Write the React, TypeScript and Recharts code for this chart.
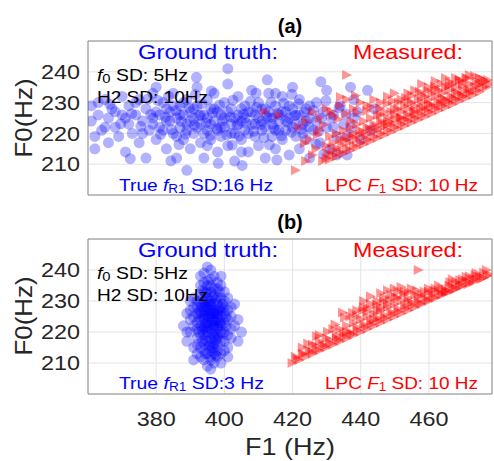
import React from 'react'
import {
  ScatterChart,
  Scatter,
  XAxis,
  YAxis,
  CartesianGrid,
  ReferenceArea,
} from 'recharts'

// F1 (Hz), F0 (Hz) pairs
const truthA: [number, number][] = [
  [361, 224], [362, 219], [361, 229], [363, 226], [364, 221], [365, 231], [366, 217], [366, 225], [367, 228], [368, 222],
  [369, 219], [370, 226], [370, 232], [371, 214], [372, 223], [372, 229], [373, 220], [374, 226], [375, 217], [375, 231],
  [376, 224], [377, 228], [377, 212], [378, 221], [379, 225], [379, 233], [380, 218], [381, 226], [381, 222], [382, 230],
  [383, 215], [383, 224], [384, 227], [385, 220], [385, 233], [386, 225], [386, 212], [387, 222], [387, 229], [388, 218],
  [388, 226], [389, 231], [389, 223], [390, 215], [390, 227], [391, 220], [391, 225], [392, 235], [392, 229], [393, 217],
  [393, 223], [394, 226], [394, 212], [395, 221], [395, 231], [396, 228], [396, 218], [397, 224], [397, 233], [398, 214],
  [398, 227], [399, 222], [399, 219], [400, 230], [400, 225], [401, 216], [401, 236], [402, 223], [402, 228], [403, 220],
  [403, 211], [404, 226], [404, 232], [405, 218], [405, 224], [406, 229], [406, 221], [407, 214], [407, 227], [408, 223],
  [408, 234], [409, 219], [409, 226], [410, 230], [410, 216], [411, 224], [411, 221], [412, 228], [412, 212], [413, 225],
  [413, 233], [414, 219], [414, 223], [415, 229], [415, 215], [416, 226], [416, 221], [417, 232], [417, 218], [418, 224],
  [418, 227], [419, 213], [419, 229], [420, 222], [420, 235], [421, 219], [421, 226], [422, 231], [422, 215], [423, 223],
  [424, 228], [424, 218], [425, 225], [425, 212], [426, 221], [427, 230], [427, 224], [428, 217], [429, 227], [430, 222],
  [430, 234], [431, 215], [432, 226], [433, 219], [434, 229], [435, 223], [436, 213], [437, 235], [438, 225], [440, 218],
  [442, 234], [444, 228], [401, 241], [389, 208],
  [379, 223], [380, 227], [382, 221], [383, 228], [384, 224], [386, 219], [387, 226], [388, 230], [389, 221], [390, 224],
  [391, 228], [392, 222], [393, 226], [394, 220], [395, 225], [396, 223], [397, 228], [398, 221], [399, 226], [400, 222],
  [401, 227], [402, 220], [403, 225], [404, 223], [405, 228], [406, 225], [407, 220], [408, 227], [409, 223], [410, 225],
  [411, 228], [412, 222], [413, 227], [414, 225], [415, 221], [416, 224], [417, 227], [418, 221], [419, 225], [420, 228],
  [421, 223], [422, 226], [423, 220], [424, 224], [376, 220], [374, 230], [371, 225], [368, 227], [365, 222], [363, 230],
  [362, 215], [380, 235], [385, 229], [395, 216], [405, 214], [415, 233], [425, 229], [432, 222], [436, 219], [439, 227],
  [443, 221], [438, 231], [433, 213],
  [378.4, 226.1], [381.3, 219.7], [382.7, 225.3], [384.5, 221.2], [385.8, 227.4], [387.3, 223.9], [388.6, 219.8], [389.7, 228.3],
  [391.2, 222.7], [392.6, 225.8], [393.4, 229.6], [394.7, 223.4], [395.9, 219.3], [396.5, 226.7], [397.8, 221.6], [398.6, 229.2],
  [399.4, 224.1], [400.7, 219.5], [401.8, 225.3], [402.5, 230.8], [403.7, 222.6], [404.3, 219.1], [405.6, 226.2], [406.4, 223.3],
  [407.7, 230.4], [408.6, 220.7], [409.5, 228.4], [410.8, 222.9], [411.6, 218.6], [412.4, 225.5], [413.7, 230.1], [414.5, 221.7],
  [415.6, 226.5], [416.8, 219.2], [417.4, 229.8], [418.5, 223.6], [419.7, 220.4], [420.6, 225.7], [421.8, 229.6], [422.7, 221.3],
  [423.5, 226.9], [424.8, 222.1], [426.2, 227.4], [427.6, 220.7], [428.5, 224.9], [429.8, 230.6], [431.3, 225.2], [433.6, 228.4],
  [435.7, 226.3], [437.2, 221.8], [366.4, 229.5], [369.6, 223.1], [372.8, 226.4], [375.5, 222.3], [377.6, 231.2], [380.5, 230.7],
  [383.6, 232.1], [386.7, 216.4], [391.5, 232.6], [396.2, 233.8], [402.3, 216.2], [409.3, 233.1], [413.2, 216.3], [419.8, 232.7],
  [426.9, 216.5], [405.2, 209.6], [398.2, 210.3], [384.3, 211.1], [372.4, 211.8], [415.4, 211.4], [429.1, 213.2], [391.8, 238.2],
  [412.6, 237.4], [428.3, 236.8],
]

const measuredA: [number, number][] = [
  [429, 211], [430, 212], [431, 211.5], [432, 213], [433, 212.5], [434, 214], [435, 213.5], [436, 215], [437, 214.5], [438, 216],
  [439, 215.5], [440, 217], [441, 216.5], [442, 218], [443, 217.5], [444, 219], [445, 218.5], [446, 220], [447, 219.5], [448, 221],
  [449, 220.5], [450, 222], [451, 221.5], [452, 223], [453, 222.5], [454, 224], [455, 223.5], [456, 225], [457, 224.5], [458, 226],
  [459, 225.5], [460, 227], [461, 226.5], [462, 228], [463, 227.5], [464, 229], [465, 228.5], [466, 230], [467, 229.5], [468, 231],
  [469, 230.5], [470, 232], [471, 231.5], [472, 233], [473, 232.5], [474, 234], [475, 233.5], [476, 235], [477, 235], [478, 236],
  [430, 216], [432, 217], [434, 218], [436, 219], [438, 220], [440, 221], [442, 222], [444, 223], [446, 224], [448, 225],
  [450, 226], [452, 227], [454, 228], [456, 229], [458, 230], [460, 231], [462, 232], [464, 233], [466, 234], [468, 235],
  [470, 235.5], [472, 236], [474, 237], [476, 237.5],
  [431, 219], [433, 220], [435, 221], [437, 222], [439, 223], [441, 224], [443, 225], [445, 226], [447, 227], [449, 227],
  [451, 228], [453, 229], [455, 230], [457, 231], [459, 232], [461, 233], [463, 234], [465, 235], [467, 236], [469, 237], [471, 238],
  [424, 224], [426, 227], [428, 225], [430, 228], [432, 226], [434, 229], [436, 231], [438, 228], [440, 230], [442, 229],
  [444, 231], [446, 230], [448, 232], [450, 233], [452, 231], [454, 233], [456, 234], [458, 236], [460, 235], [462, 237],
  [465, 238], [468, 238], [472, 239], [475, 238], [436, 239], [421, 208], [424, 211], [427, 215], [425, 218], [428, 221],
  [422, 222], [426, 213], [412, 227], [416, 226],
  [430.5, 213.4], [431.7, 214.8], [433.2, 215.1], [434.6, 216.3], [435.4, 217.8], [436.8, 217.2], [437.6, 218.9], [438.9, 218.1],
  [439.7, 219.6], [440.8, 220.3], [441.5, 219.2], [442.7, 221.4], [443.4, 220.6], [444.6, 222.1], [445.3, 221.3], [446.5, 223.2],
  [447.2, 222.4], [448.4, 223.9], [449.6, 223.1], [450.3, 224.6], [451.7, 225.2], [452.5, 224.3], [453.8, 226.1], [454.4, 225.4],
  [455.6, 227.0], [456.3, 226.2], [457.7, 227.8], [458.5, 228.6], [459.2, 227.7], [460.6, 229.4], [461.4, 228.8], [462.8, 230.3],
  [463.5, 229.7], [464.7, 231.2], [465.4, 230.5], [466.6, 232.1], [467.3, 231.4], [468.5, 233.0], [469.7, 232.4], [470.4, 233.8],
  [471.6, 234.3], [472.3, 233.6], [473.5, 235.2], [474.8, 235.7], [475.5, 236.4], [476.7, 236.9], [477.4, 237.3],
  [433.5, 224.7], [435.8, 226.4], [437.3, 224.1], [439.1, 226.8], [441.9, 227.3], [443.2, 228.6], [445.7, 228.2], [447.9, 229.7],
  [449.4, 230.5], [451.2, 230.1], [453.3, 231.6], [455.1, 232.3], [457.4, 233.5], [459.6, 233.9], [461.8, 235.3], [463.7, 236.1],
  [466.2, 236.8], [469.1, 237.4], [471.3, 237.9], [473.6, 238.6], [429.3, 222.8], [427.4, 219.6], [423.6, 216.8], [431.4, 227.1],
  [434.2, 231.8], [438.6, 232.3],
  [446, 226], [450, 228], [454, 230.5], [458, 232.5], [462, 234.5], [466, 235.5], [470, 236.5], [448, 223], [452, 225],
  [456, 227.5], [460, 229.5], [464, 231.5], [468, 233.5],
]

const truthB: [number, number][] = [
  [396, 223], [395, 220], [397, 226], [394, 224], [398, 221], [396, 218], [395, 228], [397, 216], [393, 222], [399, 225],
  [396, 230], [394, 219], [398, 229], [395, 213], [397, 232], [392, 226], [400, 220], [396, 214], [393, 229], [399, 217],
  [394, 233], [398, 212], [391, 222], [401, 224], [395, 235], [397, 210], [392, 218], [400, 228], [396, 237], [394, 211],
  [398, 234], [390, 224], [402, 221], [393, 215], [399, 231], [395, 225], [397, 222], [396, 227], [394, 221], [398, 224],
  [395, 217], [397, 229], [393, 226], [399, 220], [396, 233], [394, 227], [398, 218], [395, 231], [397, 215], [392, 223],
  [400, 226], [396, 211], [393, 232], [399, 213], [391, 228], [401, 219], [394, 236], [398, 216], [390, 220], [402, 225],
  [395, 209], [397, 238], [392, 230], [400, 214], [396, 240], [393, 212], [399, 235], [389, 226], [403, 222], [394, 230],
  [398, 227], [395, 222], [397, 219], [396, 225], [394, 216], [398, 231], [392, 221], [400, 223], [396, 216], [395, 233],
  [397, 213], [393, 219], [399, 228], [391, 225], [401, 227], [394, 225], [398, 222], [396, 221], [395, 227], [397, 224],
  [393, 224], [399, 223], [396, 229], [394, 214], [398, 219], [392, 228], [400, 217], [395, 219], [397, 234], [393, 235],
  [399, 210], [390, 227], [402, 218], [396, 212], [394, 239], [398, 236], [391, 215], [401, 231], [404, 224], [388, 222],
  [403, 229], [389, 217], [405, 220], [395, 241], [396, 208], [392, 213], [400, 233], [391, 231], [401, 215], [397, 227],
  [395, 223], [394, 222], [398, 226], [396, 226], [397, 221], [395, 230], [394, 228], [399, 222], [393, 227], [398, 214],
  [396, 235], [392, 216], [400, 230], [390, 230], [402, 228], [393, 238], [399, 238], [391, 211], [401, 212], [389, 220],
  [404, 217],
  [394.5, 222.5], [396.5, 219.5], [395.5, 224.5], [397.5, 223.5], [393.5, 220.5], [398.5, 227.5], [394.5, 228.5], [396.5, 231.5],
  [395.5, 215.5], [397.5, 217.5], [393.5, 230.5], [399.5, 219.5], [394.5, 217.5], [396.5, 224], [395.5, 226], [397.5, 230.5],
  [393.5, 217], [398.5, 223], [392.5, 225], [400.5, 222], [394.5, 232.5], [396.5, 215], [395.5, 229], [397.5, 212.5],
  [393.5, 233.5], [399.5, 229], [392.5, 220], [400.5, 225], [394.5, 213], [398.5, 233], [395.2, 236.5], [397.2, 218.3],
  [396.8, 222.2], [395.1, 221.3], [394.1, 225.6], [398.1, 225.4], [396.1, 228.4], [393.1, 228.1], [399.1, 226.6], [397.1, 225.9],
]

const measuredB: [number, number][] = [
  [420, 210], [422, 211], [424, 212], [426, 213], [428, 214], [430, 215], [432, 216], [434, 217], [436, 218], [438, 219],
  [440, 220], [442, 221], [444, 222], [446, 223], [448, 224], [450, 225], [452, 226], [454, 227], [456, 228], [458, 229],
  [460, 230], [462, 231], [464, 232], [466, 233], [468, 234], [470, 235], [472, 236], [474, 237], [476, 237.5], [478, 238.5],
  [421, 212], [423, 213], [425, 214], [427, 215.5], [429, 216], [431, 217.5], [433, 218], [435, 219.5], [437, 220], [439, 221.5],
  [441, 222.5], [443, 223.5], [445, 224.5], [447, 225.5], [449, 226.5], [451, 227.5], [453, 228.5], [455, 229.5], [457, 230], [459, 231],
  [461, 232], [463, 233], [465, 233.5], [467, 234.5], [469, 235.5], [471, 236.5], [473, 237], [475, 238],
  [426, 216], [430, 218], [434, 221], [436, 222], [438, 223], [440, 224], [442, 225], [444, 226], [446, 227], [448, 228],
  [450, 229], [452, 230], [454, 231], [456, 232], [458, 232], [460, 233], [462, 234], [464, 234], [466, 235], [468, 236],
  [470, 237], [472, 238],
  [428, 219], [432, 221], [437, 225], [439, 227], [441, 228], [443, 229], [445, 230], [447, 231], [449, 232], [451, 233],
  [453, 233], [455, 234], [460, 234], [463, 235], [467, 237], [474, 239], [477, 240], [457, 240], [446, 228], [444, 224],
  [436, 220], [433, 219], [428, 217], [423, 215],
  [421.5, 211.3], [423.4, 212.9], [425.6, 213.6], [427.3, 214.2], [429.5, 215.4], [431.2, 216.3], [433.6, 217.4], [435.3, 218.6],
  [437.5, 219.3], [439.2, 220.6], [441.4, 221.7], [443.3, 222.6], [445.6, 223.7], [447.3, 224.6], [449.5, 225.7], [451.2, 226.6],
  [453.4, 227.7], [455.3, 228.6], [457.5, 229.2], [459.6, 230.3], [461.4, 231.1], [463.6, 232.2], [465.3, 232.8], [467.5, 233.6],
  [469.3, 234.7], [471.6, 235.4], [473.2, 236.2], [475.4, 237.1], [477.3, 238.2],
  [437.8, 226.2], [440.6, 226.9], [442.2, 227.8], [444.7, 228.9], [446.8, 229.8], [448.6, 230.6], [450.4, 231.2], [452.7, 232.3],
  [454.2, 232.9], [456.6, 233.4], [458.8, 233.1], [461.6, 233.4], [464.9, 233.1], [466.3, 236.1], [469.2, 236.8], [471.1, 237.8],
  [473.7, 238.3], [476.2, 239.2], [435.4, 224.7], [432.6, 222.4], [430.4, 220.1], [427.2, 218.6], [424.6, 216.3], [434.8, 226.3],
  [441, 230], [443, 231.5], [446, 232.5], [448, 233.5], [450, 234], [452, 234.5], [445, 227], [448, 229], [451, 231],
  [454, 230], [457, 231.5], [439, 225], [442, 226.5],
]

const xTicks = [380, 400, 420, 440, 460]
const yTicks = [210, 220, 230, 240]
const xDomain: [number, number] = [360, 478.5]
const yDomain: [number, number] = [200, 250]

const toPts = (arr: [number, number][]) => arr.map(([x, y]) => ({ x, y }))

const FONT = '"Liberation Sans", Arial, Helvetica, sans-serif'

// the source figure is a bit wider than tall, so text gets stretched with textLength
const Tick = (p: any) => (
  <text
    x={p.x}
    y={p.y}
    textAnchor={p.textAnchor}
    dy={p.verticalAnchor === 'start' ? '0.71em' : '0.355em'}
    fontSize={20}
    fontFamily={FONT}
    fill="#262626"
    textLength={39}
    lengthAdjust="spacingAndGlyphs"
  >
    {p.payload.value}
  </text>
)

const Dot = (p: any) => (
  <circle cx={p.cx} cy={p.cy} r={5.5} fill="#0000ff" fillOpacity={0.3} />
)
const Tri = (p: any) => (
  <polygon
    points={`${p.cx - 5},${p.cy - 5} ${p.cx + 5},${p.cy} ${p.cx - 5},${p.cy + 5}`}
    fill="#ff0000"
    fillOpacity={0.42}
  />
)

function Panel({ truth, measured, bottom }: { truth: [number, number][]; measured: [number, number][]; bottom: boolean }) {
  return (
    <ScatterChart
      width={494}
      height={bottom ? 261 : 200}
      margin={{ top: bottom ? 39 : 41, right: 2, bottom: bottom ? 0 : 4, left: 0 }}
    >
      <CartesianGrid stroke="#e3e3e3" />
      <XAxis
        type="number"
        dataKey="x"
        domain={xDomain}
        ticks={xTicks}
        allowDataOverflow
        axisLine={false}
        tickLine={false}
        tick={bottom ? <Tick /> : false}
        tickSize={4}
        tickMargin={14}
        height={bottom ? 67 : 1}
      />
      <YAxis
        type="number"
        dataKey="y"
        domain={yDomain}
        ticks={yTicks}
        allowDataOverflow
        axisLine={false}
        tickLine={false}
        tick={<Tick />}
        tickSize={4}
        tickMargin={4}
        width={88}
      />
      <Scatter data={toPts(truth)} shape={Dot} isAnimationActive={false} />
      <Scatter data={toPts(measured)} shape={Tri} isAnimationActive={false} />
      <ReferenceArea x1={xDomain[0]} x2={xDomain[1]} y1={yDomain[0]} y2={yDomain[1]} fill="none" stroke="#8c8c8c" strokeWidth={1} ifOverflow="visible" />
    </ScatterChart>
  )
}

function Notes({ dy, spread, trueLen }: { dy: number; spread: string; trueLen: number }) {
  return (
    <g fontFamily={FONT}>
      <text x={138} y={59 + dy} fontSize={20} fill="#0000ff" textLength={140} lengthAdjust="spacingAndGlyphs">Ground truth:</text>
      <text x={353} y={59 + dy} fontSize={20} fill="#ff0000" textLength={110} lengthAdjust="spacingAndGlyphs">Measured:</text>
      <text x={97} y={81 + dy} fontSize={17} fill="#000" textLength={91} lengthAdjust="spacingAndGlyphs">
        <tspan fontStyle="italic">f</tspan>
        <tspan fontSize={13} dy={2}>0</tspan>
        <tspan dy={-2}> SD: 5Hz</tspan>
      </text>
      <text x={97} y={103 + dy} fontSize={17} fill="#000" textLength={111} lengthAdjust="spacingAndGlyphs">H2 SD: 10Hz</text>
      <text x={119} y={191 + dy} fontSize={17} fill="#0000ff" textLength={trueLen} lengthAdjust="spacingAndGlyphs">
        True <tspan fontStyle="italic">f</tspan>
        <tspan fontSize={12} dy={2}>R1</tspan>
        <tspan dy={-2}> SD:{spread} Hz</tspan>
      </text>
      <text x={325} y={191 + dy} fontSize={17} fill="#ff0000" textLength={153} lengthAdjust="spacingAndGlyphs">
        LPC <tspan fontStyle="italic">F</tspan>
        <tspan fontSize={12} dy={2}>1</tspan>
        <tspan dy={-2}> SD: 10 Hz</tspan>
      </text>
    </g>
  )
}

export default function App() {
  return (
    <div style={{ position: 'absolute', left: 0, top: 0, width: 494, height: 461, background: '#fff' }}>
      <div style={{ position: 'absolute', left: 0, top: 0 }}>
        <Panel truth={truthA} measured={measuredA} bottom={false} />
      </div>
      <div style={{ position: 'absolute', left: 0, top: 200 }}>
        <Panel truth={truthB} measured={measuredB} bottom={true} />
      </div>
      <svg width={494} height={461} style={{ position: 'absolute', left: 0, top: 0, pointerEvents: 'none' }}>
        <g fontFamily={FONT} fill="#000">
          <text x={290} y={33} fontSize={20} fontWeight="bold" textAnchor="middle">(a)</text>
          <text x={290} y={229} fontSize={20} fontWeight="bold" textAnchor="middle">(b)</text>
          <text x={290} y={455} fontSize={24} fill="#262626" textAnchor="middle" textLength={90} lengthAdjust="spacingAndGlyphs">F1 (Hz)</text>
          <text transform="translate(32,118) rotate(-90)" fontSize={24} fill="#262626" textAnchor="middle" textLength={79} lengthAdjust="spacingAndGlyphs">F0(Hz)</text>
          <text transform="translate(32,316) rotate(-90)" fontSize={24} fill="#262626" textAnchor="middle" textLength={79} lengthAdjust="spacingAndGlyphs">F0(Hz)</text>
        </g>
        <Notes dy={0} spread="16" trueLen={154} />
        <Notes dy={198} spread="3" trueLen={145} />
      </svg>
    </div>
  )
}
